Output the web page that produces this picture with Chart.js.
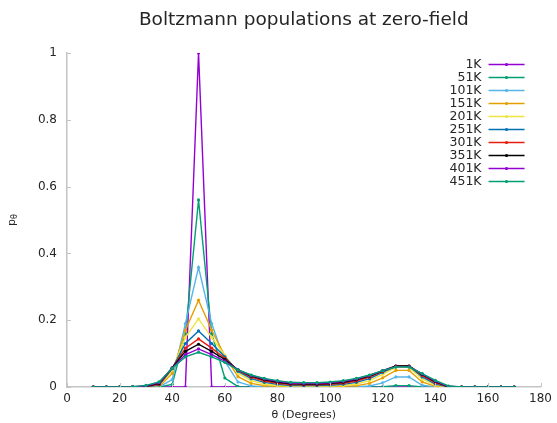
<!DOCTYPE html>
<html lang="en">
<head>
    <meta charset="UTF-8">
    <title>Boltzmann populations at zero-field</title>
    <script src="https://cdn.jsdelivr.net/npm/chart.js"></script>
    <style>
        body { margin: 0; background: #fff; }
    </style>
</head>
<body>
    <canvas id="popChart" width="557" height="423"></canvas>

    <script>
        // angle grid (degrees)
        const thetas = [10, 15, 20, 25, 30, 35, 40, 45, 50, 55, 60, 65, 70, 75, 80, 85, 90, 95, 100,
                        105, 110, 115, 120, 125, 130, 135, 140, 145, 150, 155, 160, 165, 170];

        const tempLabels = ['1K', '51K', '101K', '151K', '201K', '251K', '301K', '351K', '401K', '451K'];

        // populations p_theta at each temperature
        const pop1K   = [0, 0, 0, 0, 0, 0, 0, 0, 1, 0, 0, 0, 0, 0, 0, 0, 0, 0, 0,
                         0, 0, 0, 0, 0, 0, 0, 0, 0, 0, 0, 0, 0, 0];
        const pop51K  = [0, 0, 0, 0, 0, 0, 0.008, 0.160, 0.56, 0.160, 0.027, 0.001, 0, 0, 0, 0, 0, 0, 0,
                         0, 0, 0, 0.0007, 0.0042, 0.0042, 0.0001, 0, 0, 0, 0, 0, 0, 0];
        const pop101K = [0, 0, 0, 0, 0, 0.0001, 0.0224, 0.190, 0.358, 0.190, 0.0772, 0.0149, 0.0032, 0.0007, 0.0002, 0, 0, 0, 0.0001,
                         0.0002, 0.0007, 0.0032, 0.0125, 0.0301, 0.0301, 0.0051, 0.0002, 0, 0, 0, 0, 0, 0];
        const pop151K = [0, 0, 0, 0, 0, 0.0008, 0.0407, 0.170, 0.26, 0.170, 0.0932, 0.0310, 0.0110, 0.0041, 0.0016, 0.0007, 0.0005, 0.0005, 0.0008,
                         0.0016, 0.0041, 0.0110, 0.0275, 0.0497, 0.0497, 0.0151, 0.0019, 0, 0, 0, 0, 0, 0];
        const pop201K = [0, 0, 0, 0, 0.0002, 0.0027, 0.0507, 0.1484, 0.204, 0.1484, 0.0944, 0.0413, 0.0189, 0.0091, 0.0045, 0.0023, 0.0019, 0.0019, 0.0027,
                         0.0045, 0.0091, 0.0189, 0.0378, 0.0588, 0.0588, 0.0240, 0.0050, 0.0001, 0, 0, 0, 0, 0];
        const pop251K = [0, 0, 0, 0, 0.0006, 0.0052, 0.0551, 0.1302, 0.168, 0.1302, 0.0906, 0.0468, 0.0250, 0.0139, 0.0079, 0.0046, 0.0040, 0.0040, 0.0052,
                         0.0079, 0.0139, 0.0250, 0.0435, 0.0620, 0.0620, 0.0303, 0.0087, 0.0003, 0, 0, 0, 0, 0];
        const pop301K = [0, 0, 0, 0.0001, 0.0014, 0.0080, 0.0568, 0.1164, 0.144, 0.1164, 0.0861, 0.0496, 0.0294, 0.0181, 0.0113, 0.0072, 0.0064, 0.0064, 0.0079,
                         0.0113, 0.0181, 0.0294, 0.0467, 0.0628, 0.0628, 0.0345, 0.0122, 0.0007, 0, 0, 0, 0, 0];
        const pop351K = [0, 0, 0, 0.0003, 0.0024, 0.0107, 0.0576, 0.1067, 0.128, 0.1067, 0.0823, 0.0513, 0.0328, 0.0216, 0.0144, 0.0098, 0.0089, 0.0089, 0.0106,
                         0.0144, 0.0216, 0.0328, 0.0487, 0.0628, 0.0628, 0.0376, 0.0154, 0.0013, 0, 0, 0, 0, 0];
        const pop401K = [0, 0, 0, 0.0006, 0.0035, 0.0130, 0.0567, 0.0972, 0.114, 0.0972, 0.0775, 0.0512, 0.0346, 0.0240, 0.0169, 0.0120, 0.0110, 0.0110, 0.0129,
                         0.0169, 0.0240, 0.0346, 0.0490, 0.0611, 0.0611, 0.0390, 0.0178, 0.0021, 0, 0, 0, 0, 0];
        const pop451K = [0, 0, 0, 0.0010, 0.0047, 0.0151, 0.0559, 0.0902, 0.104, 0.0902, 0.0738, 0.0510, 0.0360, 0.0260, 0.0190, 0.0140, 0.0130, 0.0130, 0.0150,
                         0.0190, 0.0260, 0.0360, 0.0490, 0.0597, 0.0597, 0.0401, 0.0200, 0.0030, 0, 0, 0, 0, 0];

        const xTicks = [0, 20, 40, 60, 80, 100, 120, 140, 160, 180];
        const yTicks = [0, 0.2, 0.4, 0.6, 0.8, 1];

        const allPops = [pop1K, pop51K, pop101K, pop151K, pop201K, pop251K, pop301K, pop351K, pop401K, pop451K];
        const lineColors = ['#9400d3', '#009e73', '#56b4e9', '#e69f00', '#f0e442',
                            '#0072b2', '#e51e10', '#000000', '#9400d3', '#009e73'];

        const FONT = '"DejaVu Sans", Verdana, sans-serif';
        const TEXT = '#262626';
        const AXIS = '#c4c4c4';

        const datasets = allPops.map((pops, i) => ({
            label: tempLabels[i],
            data: thetas.map((t, j) => ({ x: t, y: pops[j] })),
            borderColor: lineColors[i],
            backgroundColor: lineColors[i],
            borderWidth: 1.4,
            pointRadius: 1.6,
            pointBorderWidth: 0,
            tension: 0,
            order: allPops.length - i   // later temperatures drawn on top
        }));

        // title, y label with subscript, key, and inward tick marks
        const decorPlugin = {
            id: 'decor',
            afterDraw(chart) {
                const ctx = chart.ctx;
                const area = chart.chartArea;
                const xs = chart.scales.x, ys = chart.scales.y;
                ctx.save();

                // tick marks pointing into the plot
                ctx.strokeStyle = AXIS;
                ctx.lineWidth = 1;
                yTicks.forEach(v => {
                    const py = Math.round(ys.getPixelForValue(v)) + 0.5;
                    ctx.beginPath();
                    ctx.moveTo(area.left, py);
                    ctx.lineTo(area.left + 4, py);
                    ctx.stroke();
                });
                xTicks.forEach(v => {
                    const px = Math.round(xs.getPixelForValue(v)) + 0.5;
                    ctx.beginPath();
                    ctx.moveTo(px, area.bottom);
                    ctx.lineTo(px, area.bottom - 4);
                    ctx.stroke();
                });

                // title
                ctx.fillStyle = TEXT;
                ctx.font = '18.5px ' + FONT;
                ctx.textAlign = 'center';
                ctx.textBaseline = 'middle';
                ctx.fillText('Boltzmann populations at zero-field', (area.left + area.right) / 2, 20);

                // y label: p with subscript theta
                ctx.save();
                ctx.translate(12, (area.top + area.bottom) / 2);
                ctx.rotate(-Math.PI / 2);
                ctx.textAlign = 'left';
                ctx.textBaseline = 'middle';
                ctx.font = '11px ' + FONT;
                const pw = ctx.measureText('p').width;
                ctx.font = '8px ' + FONT;
                const tw = ctx.measureText('θ').width;
                const x0 = -(pw + tw) / 2;
                ctx.font = '11px ' + FONT;
                ctx.fillText('p', x0, 0);
                ctx.font = '8px ' + FONT;
                ctx.fillText('θ', x0 + pw, 2.5);
                ctx.restore();

                // key
                ctx.font = '12.5px ' + FONT;
                ctx.textAlign = 'right';
                ctx.textBaseline = 'middle';
                chart.data.datasets.forEach((ds, i) => {
                    const y = area.top + 11.5 + 13 * i;
                    ctx.fillStyle = TEXT;
                    ctx.fillText(ds.label, area.right - 59, y);
                    ctx.strokeStyle = ds.borderColor;
                    ctx.lineWidth = 1.4;
                    ctx.beginPath();
                    ctx.moveTo(area.right - 52, y);
                    ctx.lineTo(area.right - 16, y);
                    ctx.stroke();
                    ctx.fillStyle = ds.borderColor;
                    ctx.beginPath();
                    ctx.arc(area.right - 34, y, 1.6, 0, Math.PI * 2);
                    ctx.fill();
                });

                ctx.restore();
            }
        };

        const ctx = document.getElementById('popChart').getContext('2d');
        const popChart = new Chart(ctx, {
            type: 'line',
            data: { datasets: datasets },
            options: {
                responsive: false,
                animation: false,
                layout: { padding: { top: 53, right: 11, left: 0, bottom: 0 } },
                plugins: {
                    legend: { display: false },
                    title: { display: false },
                    tooltip: { enabled: false }
                },
                scales: {
                    x: {
                        type: 'linear',
                        min: 0,
                        max: 180,
                        afterFit: s => { s.height = 36; },
                        afterBuildTicks: s => { s.ticks = xTicks.map(v => ({ value: v })); },
                        grid: { display: false, drawTicks: false },
                        border: { display: true, color: AXIS, width: 1.5 },
                        ticks: {
                            color: TEXT, font: { family: FONT, size: 12 }, padding: 5, maxRotation: 0,
                            callback: v => String(v)
                        },
                        title: {
                            display: true,
                            text: 'θ (Degrees)',
                            color: TEXT,
                            font: { family: FONT, size: 11 },
                            padding: { top: 0, bottom: 1 }
                        }
                    },
                    y: {
                        type: 'linear',
                        min: 0,
                        max: 1,
                        afterFit: s => { s.width = 67; },
                        afterBuildTicks: s => { s.ticks = yTicks.map(v => ({ value: v })); },
                        grid: { display: false, drawTicks: false },
                        border: { display: true, color: AXIS, width: 1.5 },
                        ticks: {
                            color: TEXT, font: { family: FONT, size: 12 }, padding: 10,
                            callback: v => String(v)
                        }
                    }
                }
            },
            plugins: [decorPlugin]
        });
    </script>
</body>
</html>
